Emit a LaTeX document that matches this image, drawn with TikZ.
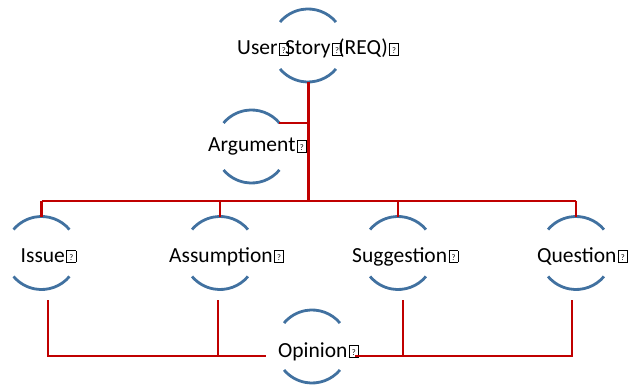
\documentclass[tikz,border=0pt]{standalone}
\usepackage{fontspec}
\setmainfont{Carlito}
\usetikzlibrary{calc}
% placeholder glyph box printed for the unsupported character
\newcommand\qb{\kern1.5pt\rlap{\setlength\fboxsep{0pt}\setlength\fboxrule{0.6pt}%
  \fbox{\makebox[8.5pt]{\rule{0pt}{11pt}\raisebox{1.5pt}{\fontsize{8.5}{8.5}\selectfont ?}}}}\kern6pt}
\definecolor{linkred}{RGB}{192,0,0}
\definecolor{arcblue}{RGB}{65,113,160}
\begin{document}
\begin{tikzpicture}[x=1pt,y=-1pt,
  label/.style={anchor=base west,inner sep=0pt,font=\fontsize{21.5}{21.5}\selectfont},
  rim/.style={draw=arcblue,line width=2.8pt},
  link/.style={draw=linkred,line width=2.2pt}]
\useasboundingbox (0,0) rectangle (628,387);

% circle centres
\coordinate (us) at (308,45.5);
\coordinate (arg) at (251.5,146.5);
\coordinate (iss) at (41.5,253);
\coordinate (asm) at (220,253);
\coordinate (sug) at (398,253);
\coordinate (que) at (576,253);
\coordinate (opi) at (312,346.5);

% top and bottom rims of each circle (y axis points down)
\foreach \c in {us,arg,iss,asm,sug,que,opi}{
  \draw[rim] ($(\c)+(40:36.5)$) arc[start angle=40,end angle=140,radius=36.5];
  \draw[rim] ($(\c)+(-40:36.5)$) arc[start angle=-40,end angle=-140,radius=36.5];
}

% labels
\node[label] (tus)  at (237,55)  {User\qb Story\qb(REQ)\qb};
\node[label] (targ) at (208,152) {Argument\qb};
\node[label] (tiss) at (20.5,262) {Issue\qb};
\node[label] (tasm) at (169,262) {Assumption\qb};
\node[label] (tsug) at (352,262) {Suggestion\qb};
\node[label] (tque) at (537,262) {Question\qb};
\node[label] (topi) at (278,357) {Opinion\qb};

% connector points
\coordinate (trunk) at (308.5,82);
\coordinate (bus) at (308.5,200.7);
\coordinate (argR) at ($(arg)+(-40:36.5)$);
\coordinate (opiL) at (266,356);
\coordinate (opiR) at (355,356);

% upper tree
\path[link] (trunk) -- (bus);
\path[link] (argR) -- (argR -| trunk);
\path[link] (iss |- bus) -- (que |- bus);
\foreach \c in {iss,asm,sug,que}
  \path[link] (\c |- bus) -- ($(\c)+(0,-36.5)$);

% lower tree joining at Opinion
\coordinate (issB) at (48,300);
\coordinate (asmB) at (218,300);
\coordinate (sugB) at (403,300);
\coordinate (queB) at (572,300);
\path[link] (issB) |- (opiL);
\path[link] (asmB) -- (asmB |- opiL);
\path[link] (queB) |- (opiR);
\path[link] (sugB) -- (sugB |- opiR);
\end{tikzpicture}
\end{document}
